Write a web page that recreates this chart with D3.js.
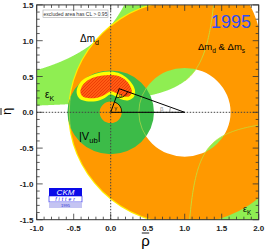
<!DOCTYPE html>
<html><head><meta charset="utf-8">
<script src="https://cdn.jsdelivr.net/npm/d3@7"></script>
<style>body{margin:0;background:#fff}svg{display:block}text{font-family:"Liberation Sans",Arial,sans-serif}</style>
</head><body><svg id="c" width="266" height="251"></svg>
<script>
// ---- data ----
const rhoTicks=[-1.0,-0.5,0.0,0.5,1.0,1.5,2.0];
const etaTicks=[-1.5,-1.0,-0.5,0.0,0.5,1.0,1.5];
const rhoDomain=[-1,2], etaDomain=[-1.5,1.5];
const dmCenter=[1,0];            // Δm_d annulus centre
const dmRadii=[0.62,1.56];       // inner, outer
const dmsCenter=[0.6,0.8375];    // Δm_s lobe (upper right)
const dmsRadius=1.441;
const vubCenter=[0,0];
const vubRadii=[0.15,0.585];     // |Vub| annulus
const epsKUpLow=[0.24,1.55];     // eta = k/(c-rho)
const epsKUpHigh=[1.15,0.95];
const epsKDownHigh=[0.19,0.94];  // eta = -k/(rho-c)
const fitOuter=[[-0.46,0.27],[-0.44,0.37],[-0.38,0.45],[-0.27,0.515],[-0.14,0.555],[0.0,0.57],[0.13,0.54],[0.23,0.47],[0.30,0.38],[0.33,0.29],[0.31,0.21],[0.23,0.165],[0.13,0.185],[0.05,0.23],[-0.01,0.25],[-0.08,0.2],[-0.2,0.155],[-0.33,0.155],[-0.42,0.19]];
const fitInner=[[-0.41,0.28],[-0.39,0.36],[-0.33,0.43],[-0.23,0.485],[-0.11,0.515],[0.02,0.52],[0.13,0.495],[0.22,0.43],[0.27,0.35],[0.285,0.28],[0.25,0.225],[0.16,0.225],[0.08,0.265],[0.0,0.295],[-0.08,0.245],[-0.2,0.2],[-0.31,0.2],[-0.38,0.225]];
const apex=[0.115,0.33];
const triBase=[[0,0],[1,0]];

// ---- setup ----
const svg=d3.select('#c');
const x=d3.scaleLinear().domain(rhoDomain).range([36.7,258.7]);
const y=d3.scaleLinear().domain(etaDomain).range([219.7,4.9]);
const defs=svg.append('defs');
defs.append('clipPath').attr('id','clip').append('rect')
  .attr('x',x(-1)).attr('y',y(1.5)).attr('width',x(2)-x(-1)).attr('height',y(-1.5)-y(1.5));
function ell(c,r){const cx=x(c[0]),cy=y(c[1]),rx=x(r)-x(0),ry=y(0)-y(r);
  return `M${cx+rx},${cy}A${rx},${ry} 0 1 0 ${cx-rx},${cy}A${rx},${ry} 0 1 0 ${cx+rx},${cy}Z`;}
defs.append('clipPath').attr('id','vubclip').append('path').attr('d',ell(vubCenter,vubRadii[1]));
defs.append('clipPath').attr('id','trclip').append('rect').attr('x',x(1.3)).attr('y',0).attr('width',100).attr('height',y(0.8));
defs.append('clipPath').attr('id','leftclip').append('rect').attr('x',0).attr('y',0).attr('width',x(0.9)).attr('height',260);
const pat=defs.append('pattern').attr('id','hatch').attr('patternUnits','userSpaceOnUse').attr('width',3).attr('height',3);
pat.append('rect').attr('width',3).attr('height',3).attr('fill','#ff5c14');
pat.append('path').attr('d','M-1,1L1,-1M0,3L3,0M2,4L4,2').attr('stroke','#e63000').attr('stroke-width',0.7);

const g=svg.append('g').attr('clip-path','url(#clip)');
const line=d3.line().x(d=>x(d[0])).y(d=>y(d[1]));
const cap=2;
const hyp=(p,r)=>p[0]/(p[1]-r);

// εK upper band
const rhos=d3.range(-1.2,1.43,0.005);
const upPts=rhos.map(r=>[r,Math.min(hyp(epsKUpLow,r),cap)]);
rhos.slice().reverse().forEach(r=>{const u=r<epsKUpHigh[1]-0.001?Math.min(hyp(epsKUpHigh,r),cap):cap;upPts.push([r,u]);});
g.append('path').attr('d',line(upPts)+'Z').attr('fill','#8fee52');
// εK lower-right band
const r0=epsKDownHigh[1]+epsKDownHigh[0]/cap;
const dnR=d3.range(r0,2.2,0.005);
const dnEdge=dnR.map(r=>[r,-epsKDownHigh[0]/(r-epsKDownHigh[1])]);
g.append('path').attr('d',line(dnEdge.concat([[2.2,-cap],[r0,-cap]]))+'Z').attr('fill','#8fee52');

// Δm annulus
g.append('g').attr('clip-path','url(#leftclip)').append('path').attr('d',ell(dmCenter,dmRadii[1]))
  .attr('fill','none').attr('stroke','#ffee00').attr('stroke-width',2.4);
g.append('path').attr('d',ell(dmCenter,dmRadii[1])+ell(dmCenter,dmRadii[0]))
  .attr('fill','#ff9900').attr('fill-rule','evenodd');
g.append('g').attr('clip-path','url(#trclip)').append('path').attr('d',ell(dmsCenter,dmsRadius)).attr('fill','#ff9900');

// εK edge lines over orange
g.append('path').attr('d',line(d3.range(1.0,1.43,0.005).map(r=>[r,hyp(epsKUpLow,r)])))
  .attr('fill','none').attr('stroke','#c4e03a').attr('stroke-width',0.9);
g.append('path').attr('d',line(dnEdge)).attr('fill','none').attr('stroke','#c4e03a').attr('stroke-width',0.9);

// |Vub| annulus
g.append('path').attr('d',ell(vubCenter,vubRadii[1])+ell(vubCenter,vubRadii[0]))
  .attr('fill','#3cbb48').attr('fill-rule','evenodd');
const gv=g.append('g').attr('clip-path','url(#vubclip)');
gv.append('path').attr('d',ell(dmCenter,dmRadii[0])).attr('fill','none').attr('stroke','#b4d84a').attr('stroke-width',0.7);
gv.append('path').attr('d',ell(dmCenter,dmRadii[1])).attr('fill','none').attr('stroke','#b4d84a').attr('stroke-width',0.7);

// combined fit
const closed=d3.line().x(d=>x(d[0])).y(d=>y(d[1])).curve(d3.curveCatmullRomClosed);
g.append('path').attr('d',closed(fitOuter)).attr('fill','#ffff00');
g.append('path').attr('d',closed(fitInner)).attr('fill','url(#hatch)');

// dotted axes
g.append('line').attr('x1',x(0)).attr('x2',x(0)).attr('y1',y(1.5)).attr('y2',y(-1.5))
  .attr('stroke','#444').attr('stroke-dasharray','1.5,1.5').attr('stroke-width',1);
g.append('line').attr('x1',x(-1)).attr('x2',x(2)).attr('y1',y(0)).attr('y2',y(0))
  .attr('stroke','#444').attr('stroke-dasharray','1.5,1.5').attr('stroke-width',1);

// triangle
g.append('path').attr('d',line([triBase[0],triBase[1],apex])+'Z').attr('fill','none').attr('stroke','#000').attr('stroke-width',1);
function arcAt(c,r,a0,a1,sweep){const cx=x(c[0]),cy=y(c[1]);
  return `M${cx+r*Math.cos(a0)},${cy-r*Math.sin(a0)}A${r},${r} 0 0 ${sweep} ${cx+r*Math.cos(a1)},${cy-r*Math.sin(a1)}`;}
const ang=(p,q)=>Math.atan2(y(p[1])-y(q[1]),x(q[0])-x(p[0]));
const aO=ang(triBase[0],apex), aB=ang(triBase[1],apex);
const aAO=ang(apex,triBase[0]), aAB=ang(apex,triBase[1]);
g.append('path').attr('d',arcAt(triBase[0],11,0,aO,0)).attr('fill','none').attr('stroke','#000').attr('stroke-width',0.8);
g.append('path').attr('d',arcAt(triBase[1],15,Math.PI,aB,1)).attr('fill','none').attr('stroke','#666').attr('stroke-width',0.7);
g.append('path').attr('d',arcAt(apex,9,aAO+2*Math.PI,aAB+2*Math.PI,0)).attr('fill','none').attr('stroke','#000').attr('stroke-width',0.8);
const small=(t,px,py,col)=>svg.append('text').attr('x',px).attr('y',py).attr('font-size',6).attr('text-anchor','middle').attr('fill',col).text(t);
small('α',x(apex[0])+1,y(apex[1])+8,'#222');
small('γ',x(0)+5,y(0)-2.5,'#222');
small('β',x(1)-23,y(0)-1.5,'#888');

// labels
function sub(main,s,px,py,fs,col){const tx=svg.append('text').attr('x',px).attr('y',py).attr('font-size',fs).attr('fill',col||'#000');
  tx.append('tspan').text(main);tx.append('tspan').attr('font-size',fs*0.7).attr('dy',fs*0.3).text(s);return tx;}
sub('Δm','d',80,42,10);
{const tx=svg.append('text').attr('x',198).attr('y',50).attr('font-size',9.5);
 tx.append('tspan').text('Δm');tx.append('tspan').attr('font-size',6.6).attr('dy',2.8).text('d');
 tx.append('tspan').attr('dy',-2.8).text(' & Δm');tx.append('tspan').attr('font-size',6.6).attr('dy',2.8).text('s');}
sub('ε','K',45,98,10);
sub('ε','K',243,212,9);
{const tx=svg.append('text').attr('x',79).attr('y',140).attr('font-size',11);
 tx.append('tspan').text('|V');tx.append('tspan').attr('font-size',7.7).attr('dy',3).text('ub');
 tx.append('tspan').attr('dy',-3).text('|');}
svg.append('text').attr('x',211).attr('y',28).attr('font-size',18).attr('fill','#2e4cf5').text('1995');

// legend box
svg.append('rect').attr('x',43).attr('y',10).attr('width',65).attr('height',7.5).attr('fill','#fff').attr('stroke','#aaa').attr('stroke-width',0.6);
svg.append('text').attr('x',75.5).attr('y',15.7).attr('font-size',5).attr('text-anchor','middle').attr('fill','#333').text('excluded area has CL > 0.95');

// frame & ticks
const fr=svg.append('g');
fr.append('rect').attr('x',x(-1)).attr('y',y(1.5)).attr('width',x(2)-x(-1)).attr('height',y(-1.5)-y(1.5))
  .attr('fill','none').attr('stroke','#333').attr('stroke-width',1);
const isMaj=v=>Math.abs(v*2-Math.round(v*2))<1e-6;
d3.range(-1,2.0001,0.1).forEach(v=>{const L=isMaj(v)?6:3;
  fr.append('line').attr('x1',x(v)).attr('x2',x(v)).attr('y1',y(-1.5)).attr('y2',y(-1.5)-L).attr('stroke','#333').attr('stroke-width',0.8);
  fr.append('line').attr('x1',x(v)).attr('x2',x(v)).attr('y1',y(1.5)).attr('y2',y(1.5)+L).attr('stroke','#333').attr('stroke-width',0.8);});
d3.range(-1.5,1.5001,0.1).forEach(v=>{const L=isMaj(v)?6:3;
  fr.append('line').attr('y1',y(v)).attr('y2',y(v)).attr('x1',x(-1)).attr('x2',x(-1)+L).attr('stroke','#333').attr('stroke-width',0.8);
  fr.append('line').attr('y1',y(v)).attr('y2',y(v)).attr('x1',x(2)).attr('x2',x(2)-L).attr('stroke','#333').attr('stroke-width',0.8);});
rhoTicks.forEach(v=>svg.append('text').attr('x',x(v)).attr('y',231).attr('font-size',8).attr('font-weight','bold')
  .attr('text-anchor','middle').attr('fill','#222').text(v.toFixed(1)));
etaTicks.forEach(v=>svg.append('text').attr('x',33.5).attr('y',y(v)+3).attr('font-size',8).attr('font-weight','bold')
  .attr('text-anchor','end').attr('fill','#222').text(v.toFixed(1)));

// axis titles
svg.append('text').attr('x',145.5).attr('y',245.5).attr('font-size',15).attr('text-anchor','middle').text('ρ');
svg.append('line').attr('x1',141.8).attr('x2',149.2).attr('y1',233).attr('y2',233).attr('stroke','#000').attr('stroke-width',0.9);
const et=svg.append('g').attr('transform','translate(10.5,111.5) rotate(-90)');
et.append('text').attr('x',0).attr('y',0).attr('font-size',13).attr('text-anchor','middle').text('η');
et.append('line').attr('x1',-3.5).attr('x2',3.5).attr('y1',-9.5).attr('y2',-9.5).attr('stroke','#000').attr('stroke-width',0.9);

// CKMfitter logo
const lg=svg.append('g');
lg.append('rect').attr('x',49).attr('y',188).attr('width',33).attr('height',8).attr('fill','#0a0ae8');
lg.append('text').attr('x',65.5).attr('y',195).attr('font-size',8).attr('font-style','italic').attr('fill','#fff').attr('text-anchor','middle').text('CKM');
lg.append('rect').attr('x',49).attr('y',196).attr('width',33).attr('height',6).attr('fill','#fff').attr('stroke','#0a0ae8').attr('stroke-width',0.6);
lg.append('text').attr('x',66).attr('y',201.3).attr('font-size',5).attr('font-style','italic').attr('letter-spacing',2).attr('fill','#0a0ae8').attr('text-anchor','middle').text('fitter');
lg.append('rect').attr('x',49).attr('y',202.5).attr('width',33).attr('height',5.5).attr('fill','#c4c4f2');
lg.append('text').attr('x',65.5).attr('y',206.8).attr('font-size',4).attr('fill','#2a2ad0').attr('text-anchor','middle').text('1995');
</script></body></html>
